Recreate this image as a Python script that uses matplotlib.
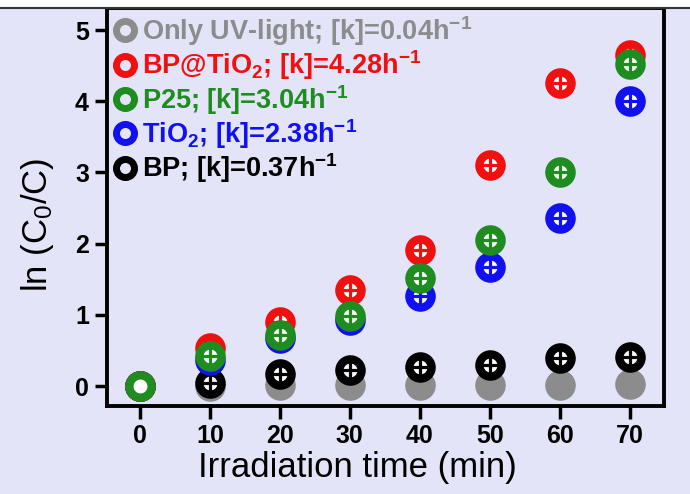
import matplotlib
matplotlib.use("Agg")
import matplotlib.pyplot as plt
from matplotlib.patches import Rectangle
from matplotlib.lines import Line2D

plt.rcParams['font.family'] = ['Liberation Sans', 'DejaVu Sans']
plt.rcParams['mathtext.default'] = 'regular'

time_min = [0, 10, 20, 30, 40, 50, 60, 70]
uv_only = [0.0, 0.0, 0.01, 0.01, 0.02, 0.02, 0.02, 0.03]
bp_tio2 = [0.0, 0.53, 0.90, 1.35, 1.91, 3.10, 4.26, 4.65]
p25 = [0.0, 0.42, 0.72, 0.98, 1.52, 2.05, 3.00, 4.52]
tio2 = [0.0, 0.37, 0.67, 0.93, 1.26, 1.67, 2.36, 4.00]
bp = [0.0, 0.04, 0.17, 0.22, 0.27, 0.30, 0.39, 0.41]

labels = ['Only UV-light; [k]=0.04h$^{-1}$',
          'BP@TiO$_2$; [k]=4.28h$^{-1}$',
          'P25; [k]=3.04h$^{-1}$',
          'TiO$_2$; [k]=2.38h$^{-1}$',
          'BP; [k]=0.37h$^{-1}$']
colors = ['#8c8c8c', '#f01010', '#1e8c1e', '#1010f0', '#000000']

bg = '#e4e4f8'
fig = plt.figure(figsize=(6.9, 4.94), dpi=100, facecolor=bg)
fig.patches.append(Rectangle((0, 1 - 7/494), 1, 7/494, transform=fig.transFigure,
                             facecolor='white', edgecolor='none', zorder=0))
fig.lines.append(Line2D([0, 1], [1 - 8/494, 1 - 8/494], transform=fig.transFigure,
                        color='#333333', lw=1.5))
ax = fig.add_axes([107/690, 1 - 406/494, 557/690, 398/494])
ax.set_facecolor(bg)

# gray: filled
ax.plot(time_min, uv_only, 'o', color=colors[0], ms=21, mec=colors[0], zorder=2)

series = [(bp, colors[4]), (tio2, colors[3]), (bp_tio2, colors[1]), (p25, colors[2])]
for i, (vals, c) in enumerate(series):
    ax.plot(time_min, vals, 'o', ms=16, mew=6, mfc='white', mec=c, zorder=3 + i)
    ax.errorbar(time_min, vals, xerr=1.3, yerr=0.12, fmt='none', ecolor=c,
                elinewidth=2.3, capsize=0, errorevery=(1, 1), zorder=3.5 + i)

handles = [Line2D([], [], ls='none', marker='o', ms=13, mew=5, mfc='none', mec=c)
           for c in colors]
leg = ax.legend(handles, labels, loc='upper left', frameon=False,
                prop={'weight': 'bold', 'size': 19.5}, handlelength=0.55,
                handletextpad=0.35, labelspacing=0.02, borderaxespad=0.0,
                bbox_to_anchor=(0.0, 1.012))
for t, c in zip(leg.get_texts(), colors):
    t.set_color(c)

ax.set_xlim(-4.7, 74.9)
ax.set_ylim(-0.28, 5.31)
ax.set_xticks(time_min)
ax.set_yticks([0, 1, 2, 3, 4, 5])
for s in ax.spines.values():
    s.set_linewidth(2.8)
ax.tick_params(direction='out', length=9, width=2.5, labelsize=18, pad=4)
for lab in ax.get_xticklabels() + ax.get_yticklabels():
    lab.set_fontweight('bold')
ax.set_xlabel('Irradiation time (min)', fontsize=25)
ax.xaxis.set_label_coords(0.449, -0.112)
ax.set_ylabel('ln (C$_0$/C)', fontsize=25)
ax.yaxis.set_label_coords(-0.092, 0.455)

fig.savefig('out.png', dpi=100, facecolor=bg)
